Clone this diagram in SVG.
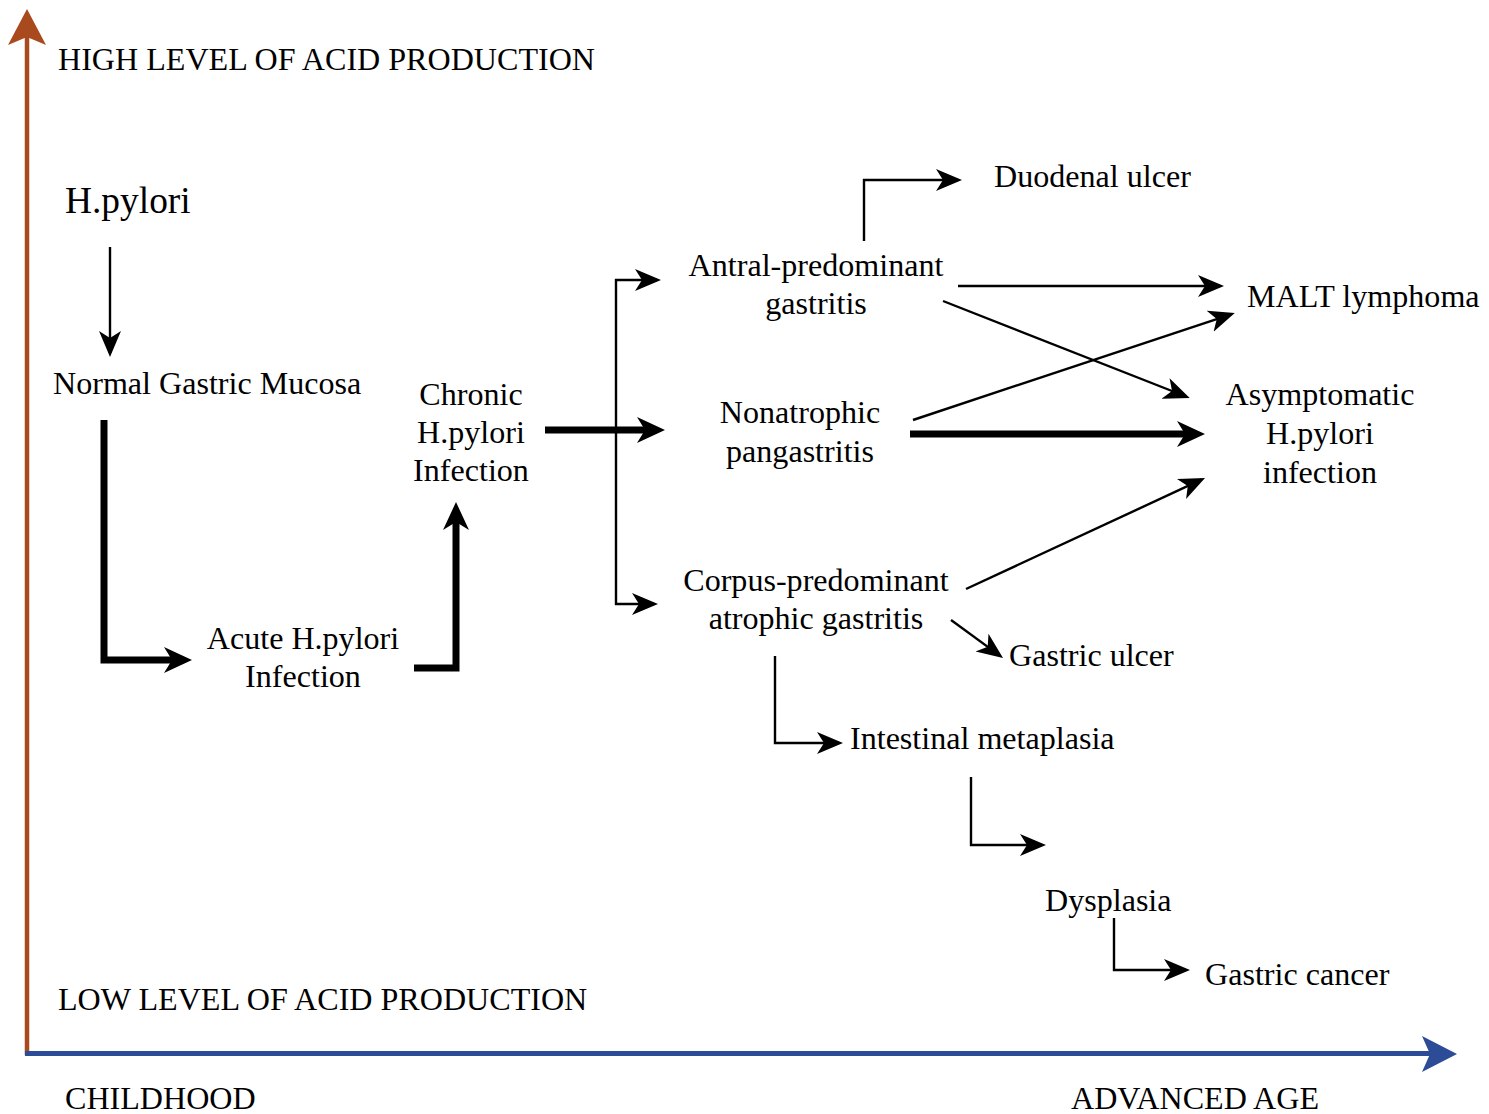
<svg xmlns="http://www.w3.org/2000/svg" width="1489" height="1114" viewBox="0 0 1489 1114">
<style>
text{font-family:"Liberation Serif","Times New Roman",serif;font-size:32.1px;fill:#000}
.c{text-anchor:middle}
.thin{stroke:#000;stroke-width:2.4;fill:none;marker-end:url(#ah)}
.line{stroke:#000;stroke-width:2.4;fill:none}
.thick{stroke:#000;stroke-width:7;fill:none;marker-end:url(#ahk)}
</style>
<defs>
<marker id="ah" viewBox="0 0 26 24" refX="22" refY="12" markerWidth="26" markerHeight="24" markerUnits="userSpaceOnUse" orient="auto">
<path d="M0,1 L26,12 L0,23 L7,12 Z" fill="#000"/>
</marker>
<marker id="ahk" viewBox="0 0 28 28" refX="16" refY="14" markerWidth="28" markerHeight="28" markerUnits="userSpaceOnUse" orient="auto">
<path d="M0,1 L28,14 L0,27 L8,14 Z" fill="#000"/>
</marker>
</defs>
<rect width="1489" height="1114" fill="#fff"/>
<g id="axes">
<line x1="27" y1="1055" x2="27" y2="30" stroke="#A84A1E" stroke-width="4.5"/>
<polygon points="27,9 8,45 27,37 46,45" fill="#A84A1E"/>
<line x1="25" y1="1053.5" x2="1435" y2="1053.5" stroke="#2C4C97" stroke-width="5"/>
<polygon points="1457,1054 1422,1036 1430,1054 1422,1072" fill="#2C4C97"/>
<text x="58" y="70">HIGH LEVEL OF ACID PRODUCTION</text>
<text x="58" y="1010">LOW LEVEL OF ACID PRODUCTION</text>
<text x="65" y="1109">CHILDHOOD</text>
<text x="1071" y="1109">ADVANCED AGE</text>
</g>
<g id="connectors">
<line class="thin" x1="110" y1="247" x2="110" y2="353"/>
<polyline class="thick" points="104,420 104,660 180,660"/>
<polyline class="thick" points="414,668 456,668 456,514"/>
<line class="thick" x1="545" y1="430" x2="653" y2="430"/>
<line class="line" x1="616" y1="279" x2="616" y2="605"/>
<line class="thin" x1="615" y1="280" x2="657" y2="280"/>
<line class="thin" x1="615" y1="604" x2="654" y2="604"/>
<polyline class="thin" points="864,241 864,180 958,180"/>
<line class="thin" x1="958" y1="286" x2="1220" y2="286"/>
<line class="thin" x1="943" y1="301" x2="1186" y2="396.5"/>
<line class="thin" x1="913" y1="420" x2="1231" y2="314.3"/>
<line class="thick" x1="910" y1="434" x2="1193" y2="434"/>
<line class="thin" x1="966" y1="589" x2="1201.4" y2="479.7"/>
<line class="thin" x1="951" y1="620" x2="999.8" y2="655.6"/>
<polyline class="thin" points="775,656 775,743 839,743"/>
<polyline class="thin" points="971,777 971,845 1042,845"/>
<polyline class="thin" points="1114,918 1114,970 1186,970"/>
</g>
<g id="hpylori"><text x="65" y="213" style="font-size:37.4px">H.pylori</text></g>
<g id="normal"><text x="53" y="394">Normal Gastric Mucosa</text></g>
<g id="chronic"><text class="c" x="471" y="405">Chronic</text><text class="c" x="471" y="443">H.pylori</text><text class="c" x="471" y="481">Infection</text></g>
<g id="acute"><text class="c" x="303" y="649">Acute H.pylori</text><text class="c" x="303" y="687">Infection</text></g>
<g id="antral"><text class="c" x="816" y="276">Antral-predominant</text><text class="c" x="816" y="314">gastritis</text></g>
<g id="nonatrophic"><text class="c" x="800" y="423">Nonatrophic</text><text class="c" x="800" y="462">pangastritis</text></g>
<g id="corpus"><text class="c" x="816" y="591">Corpus-predominant</text><text class="c" x="816" y="629">atrophic gastritis</text></g>
<g id="duodenal"><text x="994" y="187">Duodenal ulcer</text></g>
<g id="malt"><text x="1247" y="307">MALT lymphoma</text></g>
<g id="asymptomatic"><text class="c" x="1320" y="405">Asymptomatic</text><text class="c" x="1320" y="444">H.pylori</text><text class="c" x="1320" y="483">infection</text></g>
<g id="gastriculcer"><text x="1009" y="666">Gastric ulcer</text></g>
<g id="intestinal"><text x="850" y="749">Intestinal metaplasia</text></g>
<g id="dysplasia"><text x="1045" y="911">Dysplasia</text></g>
<g id="cancer"><text x="1205" y="985">Gastric cancer</text></g>
</svg>
